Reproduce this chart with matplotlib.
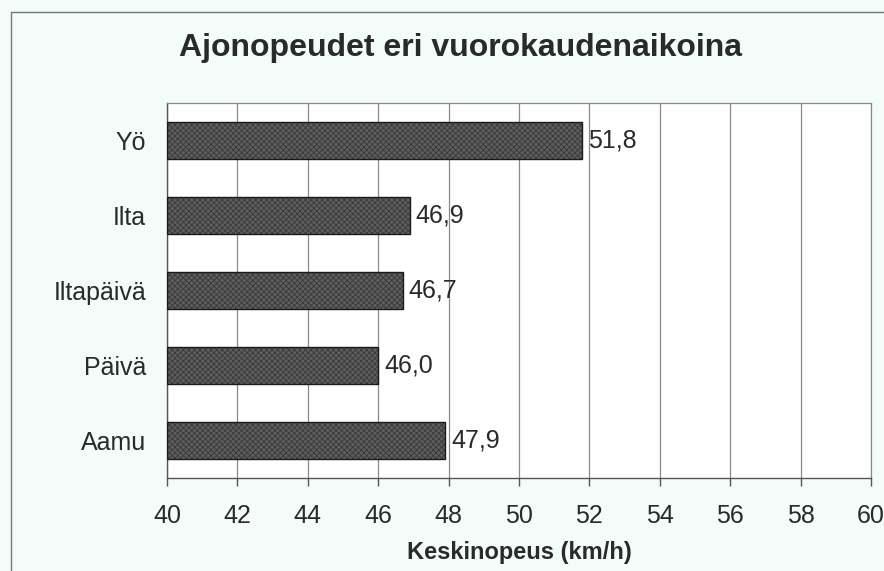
import matplotlib
matplotlib.use("Agg")
import matplotlib.pyplot as plt
from matplotlib.patches import Rectangle

# data, top to bottom as in the chart
categories = ["Yö", "Ilta", "Iltapäivä", "Päivä", "Aamu"]
speeds = [51.8, 46.9, 46.7, 46.0, 47.9]
x_ticks = [40, 42, 44, 46, 48, 50, 52, 54, 56, 58, 60]

plt.rcParams["font.family"] = ["Liberation Sans", "DejaVu Sans"]
plt.rcParams["hatch.linewidth"] = 0.6

fig = plt.figure(figsize=(8.84, 5.71), dpi=100)
fig.patch.set_facecolor("#f3fcf9")
ax = fig.add_axes([167 / 884, 93 / 571, 704 / 884, 375 / 571])
ax.set_facecolor("white")

# outer frame of the scanned chart (runs off right and bottom edges)
fig.patches.append(Rectangle((11 / 884, -0.05), 1.2, (571 - 12) / 571 + 0.05,
                             transform=fig.transFigure, fill=False,
                             edgecolor="#6f7a76", linewidth=1.0, zorder=0))

y = list(range(len(categories)))[::-1]
ax.barh(y, [v - 40 for v in speeds], left=40, height=0.5,
        color="#5e5e5e", hatch="xxxxxx", edgecolor="#383838",
        linewidth=0, zorder=3)
ax.barh(y, [v - 40 for v in speeds], left=40, height=0.5,
        fill=False, edgecolor="#1a1a1a", linewidth=1.0, zorder=4)

for yi, v in zip(y, speeds):
    ax.text(v + 0.17, yi, f"{v:.1f}".replace(".", ","), va="center",
            ha="left", fontsize=18, color="#2a2a2a")

ax.set_xlim(40, 60)
ax.set_ylim(-0.5, len(categories) - 0.5)
ax.set_xticks(x_ticks)
ax.set_xticklabels([str(t) for t in x_ticks], fontsize=18, color="#2a2a2a")
ax.set_yticks(y)
ax.set_yticklabels(categories, fontsize=18, color="#2a2a2a")
ax.tick_params(axis="y", length=0, pad=15)
ax.tick_params(axis="x", length=6, width=1, color="#555555", pad=13)

ax.grid(axis="x", color="#8a8a8a", linewidth=0.9, zorder=1)
ax.set_axisbelow(True)
for side in ["top", "right"]:
    ax.spines[side].set_color("#8a8a8a")
    ax.spines[side].set_linewidth(0.9)
for side in ["left", "bottom"]:
    ax.spines[side].set_color("#555555")
    ax.spines[side].set_linewidth(1.0)

ax.set_xlabel("Keskinopeus (km/h)", fontsize=17, fontweight="bold",
              color="#2a2a2a", labelpad=9)
fig.text(460 / 884, 1 - 48 / 571, "Ajonopeudet eri vuorokaudenaikoina",
         ha="center", va="center", fontsize=23, fontweight="bold",
         color="#2a2a2a")

fig.savefig("out.png", dpi=100, facecolor=fig.get_facecolor())
